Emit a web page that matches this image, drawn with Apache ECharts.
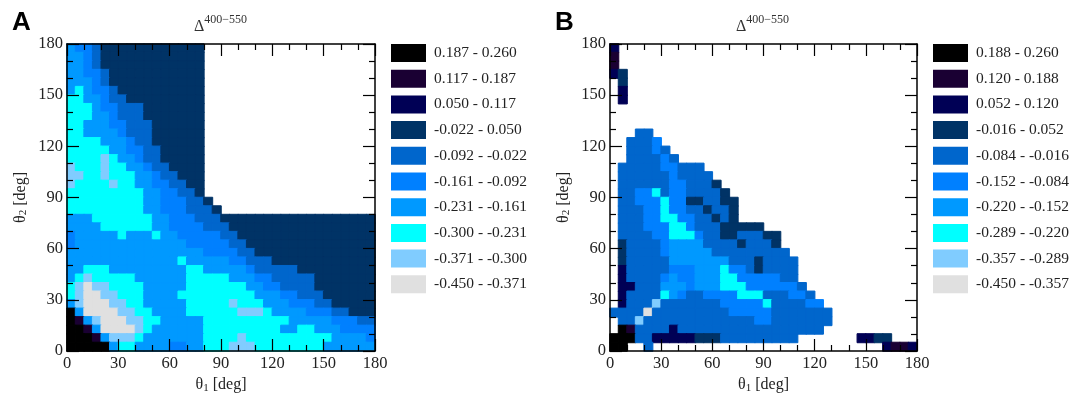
<!DOCTYPE html>
<html lang="en">

<head>
    <meta charset="UTF-8">
    <title>Delta 400-550</title>
    <script src="https://cdn.jsdelivr.net/npm/echarts@6/dist/echarts.min.js"></script>
    <style>
        html, body { margin: 0; padding: 0; background: #fff; }
        #chart { width: 1069px; height: 394px; }
    </style>
</head>

<body>
    <div id="chart"></div>

    <script>
        // bin colours, top of the legend first
        var binColors = ['#000000', '#1a0033', '#000055', '#003366', '#0066cc', '#0080ff', '#0099ff', '#00ffff', '#80ccff', '#e0e0e0'];

        var binLabelsA = ['0.187 - 0.260', '0.117 - 0.187', '0.050 - 0.117', '-0.022 - 0.050', '-0.092 - -0.022',
            '-0.161 - -0.092', '-0.231 - -0.161', '-0.300 - -0.231', '-0.371 - -0.300', '-0.450 - -0.371'];
        var binLabelsB = ['0.188 - 0.260', '0.120 - 0.188', '0.052 - 0.120', '-0.016 - 0.052', '-0.084 - -0.016',
            '-0.152 - -0.084', '-0.220 - -0.152', '-0.289 - -0.220', '-0.357 - -0.289', '-0.450 - -0.357'];

        // one string per theta2 row, 175-180 first, one char per 5 deg of theta1: bin index, '.' = no data
        var rowsA = [
            '6554333333333333',
            '6654333333333333',
            '6654333333333333',
            '6655433333333333',
            '6665433333333333',
            '6765543333333333',
            '7766544333333333',
            '7776554443333333',
            '7776654443333333',
            '7766655444333333',
            '7766665444333333',
            '7777666544333333',
            '7777766554433333',
            '7777876654433333',
            '8777877665443333',
            '8877877766544333',
            '8777787766554433',
            '7777777776655443',
            '77777777766555443',
            '777777777665554443',
            '666777777766555444333333333333333333',
            '666677777766555544433333333333333333',
            '566666766676655555443333333333333333',
            '566666666666665555544333333333333333',
            '666666666666666655554433333333333333',
            '666666666666676666655444333333333333',
            '667776666666667766666544444333333333',
            '678777776666667777766655444443333333',
            '789887777666667777777665544443333333',
            '789988777666677777777766655444333333',
            '689998877666667777787776665554433333',
            '069999887766667777778887666655544333',
            '016899988776666677777777776666655544',
            '001699998766666677777777766776665555',
            '000168887666666677778777777777766665',
            '000006776666556677788877777777666666'
        ];

        var rowsB = [
            '2',
            '1',
            '1',
            '23',
            '.3',
            '.2',
            '.2',
            '',
            '',
            '',
            '...44',
            '..4445',
            '..44454',
            '..444454',
            '.4444455444',
            '.44444454444',
            '.444444554443',
            '.4455745544443',
            '.44555755334433',
            '.44455755443443',
            '.44455775544343',
            '.44455577544433333',
            '.4444557775443344433',
            '.3444456666444434443',
            '.34444566666444444444',
            '.344444666666644434444',
            '.244444555666755434444',
            '.244445655666775555544',
            '.2244466656667775555554',
            '.24444765445555777444554',
            '.244484444444555557444455',
            '44449444444444555554444444',
            '.4484444444444444554444444',
            '.014444244444444444444444',
            '0004422222333444444444.......2233',
            '00..4...........................2112'
        ];

        var xTicks = 30, minorSplit = 3, maxDeg = 180, cellCount = 36;

        function toCells(rows) {
            var cells = [];
            for (var r = 0; r < rows.length; r++) {
                for (var c = 0; c < rows[r].length; c++) {
                    if (rows[r][c] !== '.') {
                        var bin = Number(rows[r][c]);
                        // same colour border closes the hairline seams between cells
                        cells.push({
                            value: [c, cellCount - 1 - r, bin],
                            itemStyle: { borderColor: binColors[bin], borderWidth: 1, opacity: 1 }
                        });
                    }
                }
            }
            return cells;
        }

        var cats = [];
        for (var i = 0; i < cellCount; i++) cats.push(String(i * 5));

        var nameRich = {
            a: { fontFamily: 'Liberation Serif', fontSize: 16, color: '#222' },
            s: { fontFamily: 'Liberation Serif', fontSize: 11, color: '#222', verticalAlign: 'bottom', padding: [6, 0, 0, 0] }
        };

        function valueAxis(pos, showLabel, gridIndex, name) {
            return {
                type: 'value', gridIndex: gridIndex, position: pos, min: 0, max: maxDeg, interval: xTicks, z: 5,
                name: name, nameLocation: 'middle', nameGap: (pos === 'left') ? 38 : 20,
                nameRotate: (pos === 'left') ? 90 : 0,
                nameTextStyle: { rich: nameRich },
                axisLine: { show: true, onZero: false, lineStyle: { color: '#000', width: 1.5 } },
                axisTick: { show: true, inside: true, length: 12, lineStyle: { color: '#000', width: 1.2 } },
                minorTick: { show: true, splitNumber: minorSplit, length: 6, lineStyle: { color: '#000', width: 1.2 } },
                splitLine: { show: false },
                axisLabel: { show: showLabel, margin: 4, fontFamily: 'Liberation Serif', fontSize: 16.5, color: '#222' }
            };
        }

        function catAxis(gridIndex) {
            return { type: 'category', gridIndex: gridIndex, data: cats, show: false };
        }

        function pieces(labels) {
            var out = [];
            for (var i = 0; i < labels.length; i++) {
                out.push({ value: i, label: labels[i], color: binColors[i] });
            }
            return out;
        }

        function legend(left, labels, seriesIndex) {
            return {
                type: 'piecewise', left: left, top: 44, padding: 0, align: 'left', seriesIndex: seriesIndex, dimension: 2,
                orient: 'vertical', inverse: true, selectedMode: false, hoverLink: false,
                itemWidth: 35, itemHeight: 18, itemGap: 7.7, itemSymbol: 'rect', textGap: 8,
                textStyle: { fontFamily: 'Liberation Serif', fontSize: 15.5, color: '#222' },
                pieces: pieces(labels)
            };
        }

        function titleText(left) {
            return {
                left: left, top: 11, padding: 0, text: '{d|\u0394}{u|400\u2212550}',
                textStyle: {
                    rich: {
                        d: { fontFamily: 'Liberation Serif', fontWeight: 'normal', fontSize: 16, color: '#333', padding: [8, 0, 0, 0] },
                        u: { fontFamily: 'Liberation Serif', fontWeight: 'normal', fontSize: 12, color: '#333', padding: [0, 0, 6, 0] }
                    }
                }
            };
        }

        function letter(left, text) {
            return { left: left, top: 10, padding: 0, text: text, textStyle: { fontFamily: 'Liberation Sans', fontWeight: 'bold', fontSize: 26, color: '#000' } };
        }

        var xName = '{a|\u03b8}{s|1}{a| [deg]}', yName = '{a|\u03b8}{s|2}{a| [deg]}';

        var myChart = echarts.init(document.getElementById('chart'));
        myChart.setOption({
            animation: false,
            title: [letter(12, 'A'), titleText(194), letter(555, 'B'), titleText(736)],
            grid: [
                { left: 67, top: 44, width: 308, height: 307, outerBoundsMode: 'none' },
                { left: 610, top: 44, width: 307, height: 307, outerBoundsMode: 'none' }
            ],
            xAxis: [
                catAxis(0), valueAxis('bottom', true, 0, xName), valueAxis('top', false, 0, ''),
                catAxis(1), valueAxis('bottom', true, 1, xName), valueAxis('top', false, 1, '')
            ],
            yAxis: [
                catAxis(0), valueAxis('left', true, 0, yName), valueAxis('right', false, 0, ''),
                catAxis(1), valueAxis('left', true, 1, yName), valueAxis('right', false, 1, '')
            ],
            visualMap: [legend(391, binLabelsA, 0), legend(933, binLabelsB, 1)],
            series: [
                { type: 'heatmap', xAxisIndex: 0, yAxisIndex: 0, data: toCells(rowsA), silent: true },
                { type: 'heatmap', xAxisIndex: 3, yAxisIndex: 3, data: toCells(rowsB), silent: true }
            ]
        });
    </script>
</body>

</html>
